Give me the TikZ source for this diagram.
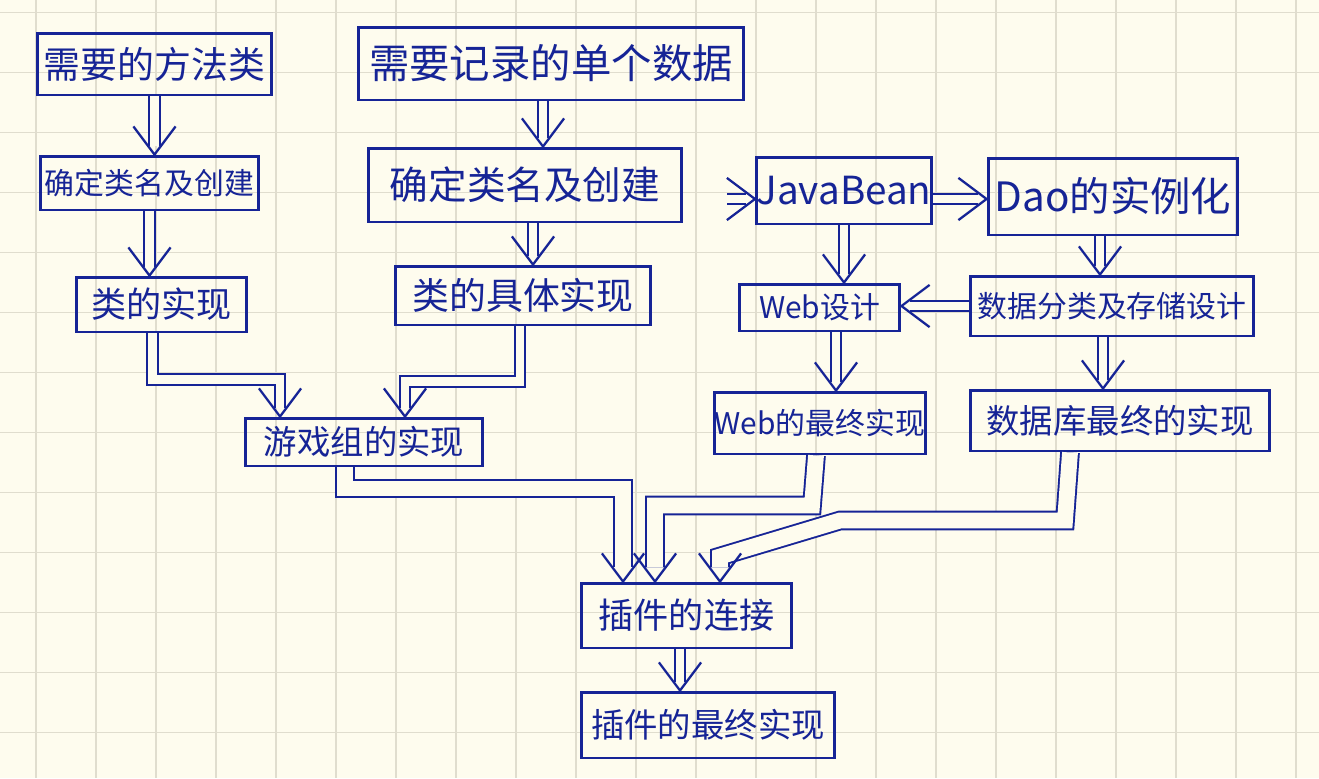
\documentclass[tikz,border=0pt]{standalone}
\usepackage{fontspec}
\newfontfamily\cjk{Noto Sans CJK SC}
\usetikzlibrary{decorations.markings}
\definecolor{ink}{RGB}{22,36,150}
\definecolor{paper}{RGB}{254,252,238}
\definecolor{gridline}{RGB}{224,221,206}
\newcommand\hw[1]{\cjk\fontsize{#1}{#1}\selectfont}
\tikzset{
  box/.style={draw=ink, line width=1.7pt, text=ink, inner sep=0pt},
  vtip/.style={postaction={decorate, decoration={markings, mark=at position 1 with
    {\draw[ink, line width=1.3pt, shorten >=0pt, line join=round] (-16pt,-12pt) -- (0,0) -- (-16pt,12pt);}}}},
  dbl/.style={draw=ink, line width=1.1pt, double=paper, double distance=5pt, shorten >=5pt, vtip},
  wide/.style={dbl, double distance=9pt, shorten >=8pt},
}

\begin{document}
\begin{tikzpicture}[x=0.02cm, y=-0.02cm]
  % Paper
  \fill[paper] (0,0) rectangle (1319,778);
  \useasboundingbox (0,0) rectangle (1319,778);
  \foreach \gx in {36,96,...,1296} \draw[gridline, line width=0.85pt] (\gx,0) -- (\gx,778);
  \foreach \gy in {12.7,72.7,...,772.7} \draw[gridline, line width=0.85pt] (0,\gy) -- (1319,\gy);
  % Left column
  \node[box, minimum width=4.70cm, minimum height=1.24cm, font=\hw{21}] (fangfa) at (154.5,64) {需要的方法类};
  \node[box, minimum width=4.38cm, minimum height=1.08cm, font=\hw{17}] (queL) at (149.5,183) {确定类名及创建};
  \node[box, minimum width=3.42cm, minimum height=1.10cm, font=\hw{20}] (lei) at (161.5,304.5) {类的实现};
  % Middle column
  \node[box, minimum width=7.72cm, minimum height=1.46cm, font=\hw{23}] (shuju) at (551,63.5) {需要记录的单个数据};
  \node[box, minimum width=6.28cm, minimum height=1.48cm, font=\hw{22}] (queR) at (525,185) {确定类名及创建};
  \node[box, minimum width=5.12cm, minimum height=1.18cm, font=\hw{21}] (juti) at (523,295.5) {类的具体实现};
  \node[box, minimum width=4.76cm, minimum height=0.96cm, font=\hw{19}] (youxi) at (364,442) {游戏组的实现};
  % Right part
  \node[box, minimum width=3.20cm, minimum height=1.34cm, font=\hw{22}] (java) at (844,190.5) {JavaBean};
  \node[box, minimum width=5.00cm, minimum height=1.54cm, font=\hw{23}] (dao) at (1113,196.5) {Dao的实例化};
  \node[box, minimum width=3.22cm, minimum height=0.94cm, font=\hw{17}] (webd) at (819.5,307.5) {Web设计};
  \node[box, minimum width=5.68cm, minimum height=1.20cm, font=\hw{17}] (fenlei) at (1112,306) {数据分类及存储设计};
  \node[box, minimum width=3.88cm, minimum height=1.24cm, font=\hw{17}] (webfin) at (820,423) {Web的最终实现};
  \node[box, minimum width=6.00cm, minimum height=1.22cm, font=\hw{19}] (dbfin) at (1120,420.5) {数据库最终的实现};
  % Bottom
  \node[box, minimum width=4.22cm, minimum height=1.30cm, font=\hw{20}] (lianjie) at (686.5,615.5) {插件的连接};
  \node[box, minimum width=5.08cm, minimum height=1.32cm, font=\hw{19}] (final) at (708,725) {插件的最终实现};
  \coordinate (jbin) at (727,199);
  % Straight arrows
  \draw[dbl] (fangfa.south) -- (fangfa.south |- queL.north);
  \draw[dbl] (queL.south) -- (queL.south |- lei.north);
  \draw[dbl] ([xshift=-0.16cm]shuju.south) -- ([xshift=-0.16cm]shuju.south |- queR.north);
  \draw[dbl] ([xshift=0.16cm]queR.south) -- ([xshift=0.16cm]queR.south |- juti.north);
  \draw[dbl] (jbin) -- (jbin -| java.west);
  \draw[dbl] (java.east |- jbin) -- (jbin -| dao.west);
  \draw[dbl] (java.south) -- (java.south |- webd.north);
  \draw[dbl] ([xshift=-0.26cm]dao.south) -- ([xshift=-0.26cm]dao.south |- fenlei.north);
  \draw[dbl] (fenlei.west) -- (fenlei.west -| webd.east);
  \draw[dbl] ([xshift=0.33cm]webd.south) -- ([xshift=0.33cm]webd.south |- webfin.north);
  \draw[dbl] ([xshift=-0.18cm]fenlei.south) -- ([xshift=-0.18cm]fenlei.south |- dbfin.north);
  \draw[dbl] ([xshift=-0.13cm]lianjie.south) -- ([xshift=-0.13cm]lianjie.south |- final.north);
  % Routed arrows
  \draw[dbl] ([xshift=-0.18cm]lei.south) -- ++(0,46) -| ([xshift=-1.68cm]youxi.north);
  \draw[dbl] ([xshift=-0.06cm]juti.south) -- ++(0,55) -| ([xshift=0.82cm]youxi.north);
  \draw[wide] ([xshift=-0.38cm]youxi.south) -- ++(0,21) -| ([xshift=-1.27cm]lianjie.north);
  \draw[wide] ([xshift=-0.08cm]webfin.south) -- ++(-4,50) -| ([xshift=-0.63cm]lianjie.north);
  \draw[wide] ([xshift=-1.00cm]dbfin.south) -- ++(-5,68) -- ++(-225,0) -- ++(-120,36) -- ([xshift=0.67cm]lianjie.north);
\end{tikzpicture}
\end{document}
